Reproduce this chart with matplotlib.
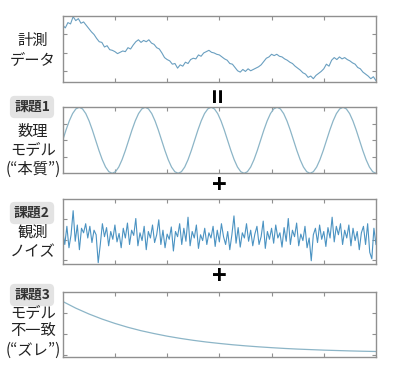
import matplotlib
matplotlib.use('Agg')
import matplotlib.pyplot as plt
import numpy as np

plt.rcParams['font.family'] = ['Noto Sans CJK JP', 'DejaVu Sans']

# 計測データ (x = 0..6, 0.05刻み)
measured = [0.86, 0.82, 0.90, 0.88, 0.99, 0.93, 0.96, 0.89, 0.91, 0.86,
            0.81, 0.76, 0.72, 0.66, 0.61, 0.60, 0.53, 0.55, 0.49, 0.48,
            0.46, 0.43, 0.45, 0.47, 0.46, 0.52, 0.50, 0.56, 0.61, 0.64,
            0.60, 0.63, 0.61, 0.64, 0.59, 0.57, 0.52, 0.50, 0.44, 0.37,
            0.34, 0.32, 0.27, 0.28, 0.21, 0.26, 0.24, 0.30, 0.28, 0.34,
            0.36, 0.35, 0.41, 0.39, 0.44, 0.46, 0.48, 0.45, 0.44, 0.42,
            0.41, 0.38, 0.35, 0.33, 0.28, 0.27, 0.22, 0.17, 0.15, 0.19,
            0.16, 0.20, 0.17, 0.19, 0.21, 0.23, 0.26, 0.31, 0.36, 0.38,
            0.42, 0.40, 0.42, 0.39, 0.38, 0.35, 0.33, 0.30, 0.28, 0.24,
            0.21, 0.18, 0.14, 0.12, 0.07, 0.09, 0.05, 0.10, 0.13, 0.16,
            0.20, 0.27, 0.24, 0.33, 0.37, 0.34, 0.38, 0.35, 0.37, 0.34,
            0.32, 0.29, 0.27, 0.22, 0.20, 0.15, 0.12, 0.09, 0.05, 0.08,
            0.02]

# 数理モデル (x = 0..6, 96点)
model = [0.500, 0.655, 0.794, 0.905, 0.976, 1.000, 0.976, 0.905, 0.794, 0.655,
         0.500, 0.345, 0.206, 0.095, 0.024, 0.000, 0.024, 0.095, 0.206, 0.345,
         0.500, 0.655, 0.794, 0.905, 0.976, 1.000, 0.976, 0.905, 0.794, 0.655,
         0.500, 0.345, 0.206, 0.095, 0.024, 0.000, 0.024, 0.095, 0.206, 0.345,
         0.500, 0.655, 0.794, 0.905, 0.976, 1.000, 0.976, 0.905, 0.794, 0.655,
         0.500, 0.345, 0.206, 0.095, 0.024, 0.000, 0.024, 0.095, 0.206, 0.345,
         0.500, 0.655, 0.794, 0.905, 0.976, 1.000, 0.976, 0.905, 0.794, 0.655,
         0.500, 0.345, 0.206, 0.095, 0.024, 0.000, 0.024, 0.095, 0.206, 0.345,
         0.500, 0.655, 0.794, 0.905, 0.976, 1.000, 0.976, 0.905, 0.794, 0.655,
         0.500, 0.345, 0.206, 0.095, 0.024, 0.000]

# 観測ノイズ (x = 0..6, 0.04刻み)
noise = [0.50, 0.30, 0.58, 0.25, 0.45, 0.82, 0.35, 0.60, 0.22, 0.55,
         0.48, 0.62, 0.40, 0.58, 0.33, 0.52, 0.45, 0.02, 0.30, 0.62,
         0.42, 0.56, 0.28, 0.50, 0.38, 0.60, 0.34, 0.47, 0.25, 0.55,
         0.40, 0.63, 0.30, 0.52, 0.44, 0.70, 0.28, 0.48, 0.36, 0.58,
         0.22, 0.50, 0.40, 0.60, 0.33, 0.45, 0.68, 0.30, 0.52, 0.25,
         0.46, 0.38, 0.57, 0.20, 0.50, 0.42, 0.62, 0.30, 0.55, 0.35,
         0.72, 0.28, 0.50, 0.40, 0.60, 0.24, 0.45, 0.36, 0.55, 0.30,
         0.48, 0.40, 0.58, 0.27, 0.52, 0.34, 0.62, 0.42, 0.30, 0.50,
         0.22, 0.45, 0.74, 0.32, 0.56, 0.26, 0.48, 0.40, 0.62, 0.35,
         0.52, 0.28, 0.46, 0.58, 0.30, 0.42, 0.66, 0.24, 0.50, 0.38,
         0.55, 0.32, 0.60, 0.40, 0.48, 0.26, 0.56, 0.35, 0.70, 0.30,
         0.52, 0.42, 0.63, 0.28, 0.46, 0.36, 0.58, 0.25, 0.40, 0.05,
         0.45, 0.55, 0.33, 0.60, 0.38, 0.50, 0.27, 0.56, 0.40, 0.72,
         0.34, 0.58, 0.45, 0.62, 0.30, 0.52, 0.40, 0.60, 0.28, 0.55,
         0.36, 0.50, 0.22, 0.48, 0.58, 0.30, 0.62, 0.18, 0.08, 0.55,
         0.30]

# モデル不一致 (x = 0..6, 0.25刻み)
mismatch = [0.850, 0.747, 0.658, 0.580, 0.512, 0.452, 0.400, 0.356, 0.316,
            0.282, 0.252, 0.226, 0.204, 0.184, 0.167, 0.152, 0.139, 0.127,
            0.117, 0.109, 0.101, 0.095, 0.089, 0.084, 0.080]

W, H = 415, 385
fig = plt.figure(figsize=(W / 100, H / 100), dpi=100)

frame = '#909090'

def panel(top, bottom, y, color, lw, yticks):
    ax = fig.add_axes([62.7 / W, 1 - bottom / H, 313.3 / W, (bottom - top) / H])
    x = np.linspace(0, 6, len(y))
    ax.plot(x, y, color=color, lw=lw)
    ax.set_xlim(0, 6)
    ax.set_ylim(0, 1)
    ax.set_xticks([1, 2, 3, 4, 5])
    ax.set_yticks(yticks)
    ax.tick_params(direction='in', length=3, width=0.8, color=frame,
                   top=True, right=True, labelbottom=False, labelleft=False)
    for s in ax.spines.values():
        s.set_color(frame)
        s.set_linewidth(1.0)
    return ax

panel(16, 82, measured, '#6a9fc0', 0.8, [0.167, 0.445, 0.722])
panel(107.3, 173.3, model, '#8cb5c7', 0.9, [0.25, 0.5, 0.75])
panel(199, 264, noise, '#4b93c2', 0.8, [0.06, 0.37, 0.69])
panel(291.7, 356.7, mismatch, '#8cb5c7', 0.9, [0.03, 0.35, 0.67])

def ftext(px, py, s, **kw):
    fig.text(px / W, 1 - py / H, s, ha='center', va='center', **kw)

tc = '#222222'
fs = 11
ls = 1.15
ftext(33, 50, '計測\nデータ', fontsize=fs, color=tc, linespacing=ls)

badge = dict(boxstyle='round,pad=0.3,rounding_size=0.35', fc='#e3e3e3', ec='none')
bfs = 10
ftext(32, 107, '課題1', fontsize=bfs, color='#333333', fontweight='bold', bbox=badge)
ftext(33, 150, '数理\nモデル\n(“本質”)', fontsize=fs, color=tc, linespacing=ls)

ftext(32, 213, '課題2', fontsize=bfs, color='#333333', fontweight='bold', bbox=badge)
ftext(33, 242, '観測\nノイズ', fontsize=fs, color=tc, linespacing=ls)

ftext(32, 295, '課題3', fontsize=bfs, color='#333333', fontweight='bold', bbox=badge)
ftext(33, 331, 'モデル\n不一致\n(“ズレ”)', fontsize=fs, color=tc, linespacing=ls)

ftext(219.5, 95, '=', fontsize=18, fontweight='bold', rotation=90, color='black')
ftext(219.5, 186, '+', fontsize=18, fontweight='bold', color='black')
ftext(219.5, 277, '+', fontsize=18, fontweight='bold', color='black')

fig.savefig('out.png', dpi=100)
